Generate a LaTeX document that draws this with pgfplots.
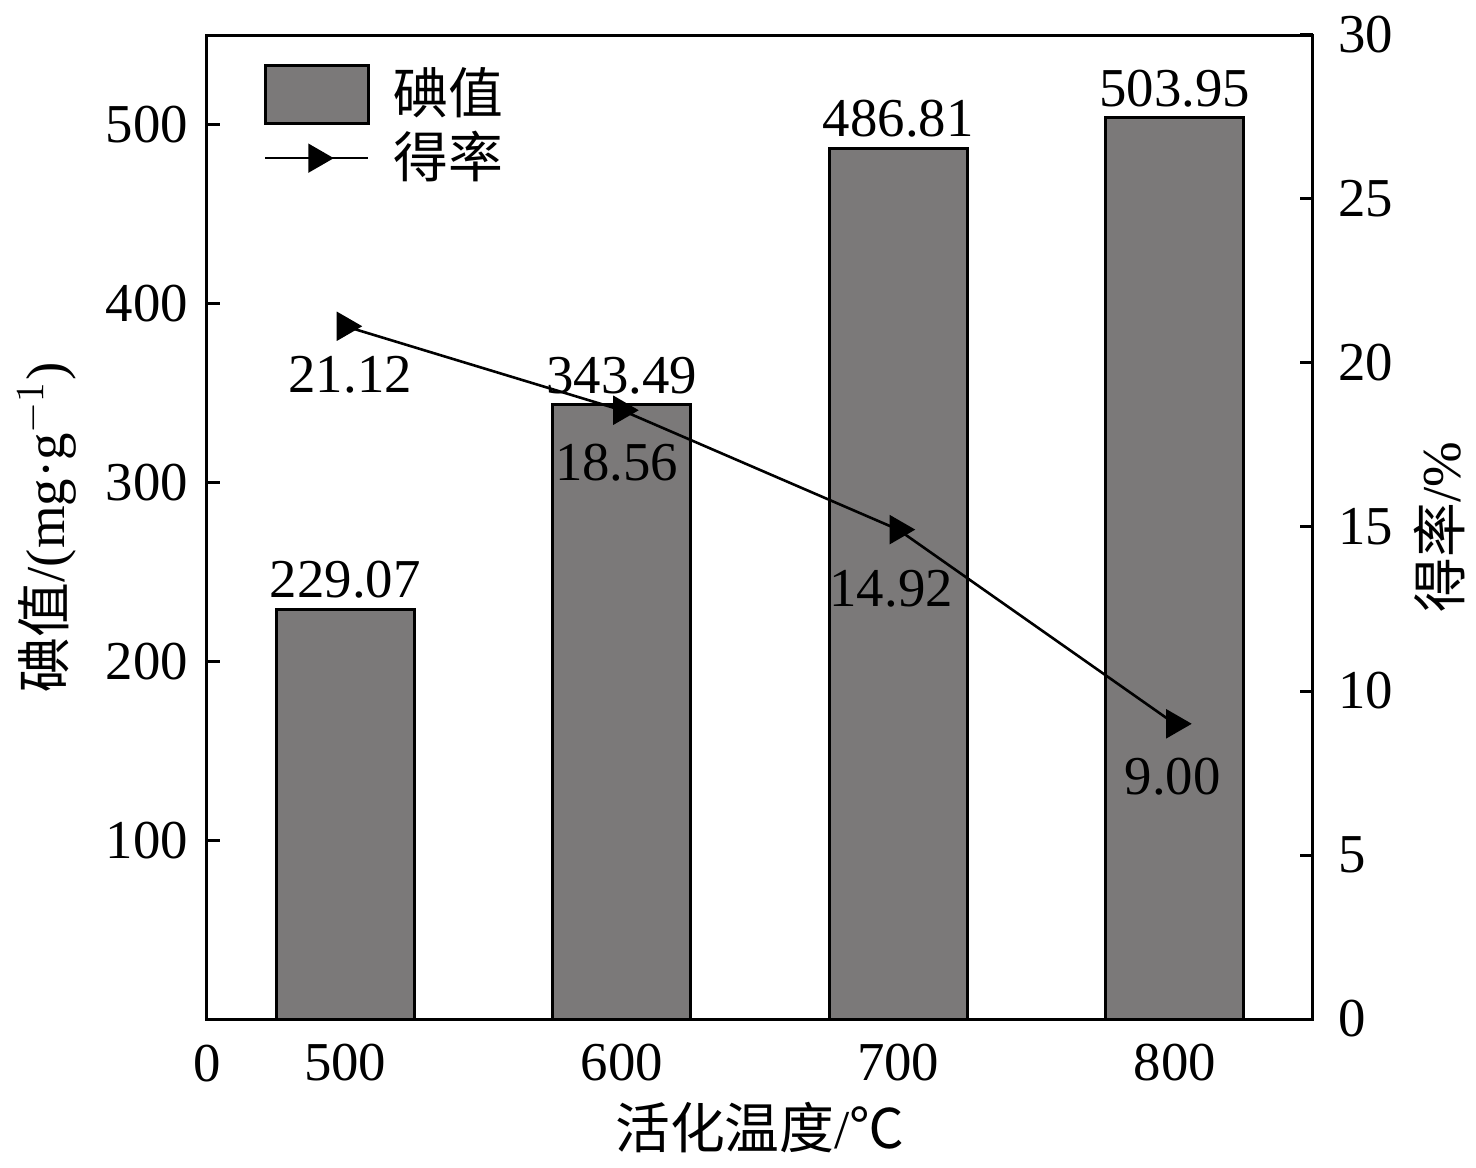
\documentclass[border=0pt]{standalone}
\usepackage{pgfplots}
\pgfplotsset{compat=1.18}
\usepackage{pgfplotstable}
\usepackage{fontspec}
\setmainfont{Liberation Serif}
\newfontfamily\cjk{Noto Sans CJK SC}
\definecolor{barg}{HTML}{7B7979}
\pgfplotstableread{
x iod yld xo yo
500 229.07 21.12 1.25 -12
600 343.49 18.56 -1.25 -13
700 486.81 14.92 -1.75 -14.75
800 503.95 9.00 -0.5 -13.25
}\data
\pgfplotsset{
  /pgf/number format/assume math mode=true,
  common/.style={
    width=276.5pt, height=246pt, scale only axis,
    at={(0,0)}, anchor=south west,
    xmin=450, xmax=850,
    tick align=inside, major tick length=3.25pt,
    axis line style={line width=0.75pt},
    every tick/.style={black, line width=0.75pt},
  },
  barleg/.style={legend image code/.code={\draw[##1] (0pt,-7.25pt) rectangle (25.75pt,7.25pt);}},
  lineleg/.style={legend image code/.code={\draw[mark repeat=2,mark phase=2,##1] plot coordinates {(0pt,0pt) (12.875pt,0pt) (25.75pt,0pt)};}},
}
\begin{document}
\fontsize{13.7}{16}\selectfont
\begin{tikzpicture}
\begin{axis}[common,
  clip=false,
  ymin=0, ymax=550,
  xtick={500,600,700,800}, ytick={100,200,300,400,500},
  xtick pos=bottom, ytick pos=left,
  xticklabel style={yshift=-1.4pt},
  xlabel={{\cjk 活化温度}/{\cjk ℃}},
  xlabel style={at={(axis description cs:0.5,-0.1108)}, anchor=center},
  ylabel={{\cjk 碘值}/(mg·g$^{-1}$)},
  ylabel style={at={(axis description cs:-0.1447,0.5)}, anchor=center},
  legend style={draw=none, fill=none, at={(axis description cs:0.0506,0.9715)}, anchor=north west,
    inner sep=0pt, nodes={inner sep=0pt}, column sep=6pt, row sep=1.5pt},
  legend cell align=left,
]
\addplot[ybar, bar width=50, fill=barg, draw=black, line width=0.75pt, barleg,
  nodes near coords={\pgfmathprintnumber[fixed,fixed zerofill,precision=2]{\pgfplotspointmeta}},
  nodes near coords style={anchor=south, inner sep=0pt, yshift=2.25pt, black},
] table[x=x, y=iod] {\data};
\addlegendentry{\cjk 碘值}
\addlegendimage{black, line width=0.65pt, mark=triangle*, mark options={rotate=-90, fill=black}, mark size=3.6pt, lineleg}
\addlegendentry{\cjk 得率}
\node[anchor=center] at (axis description cs:0,-0.0457) {0};
\end{axis}
\begin{axis}[common,
  ymin=0, ymax=30, ytick={0,5,...,30},
  axis x line=none, axis y line*=right,
  yticklabel style={xshift=1.5pt},
  ylabel={{\cjk 得率}/\%},
  ylabel style={at={(axis description cs:1.1148,0.5)}, anchor=center},
]
\addplot[black, line width=0.65pt, mark=triangle*, mark options={rotate=-90, fill=black}, mark size=3.6pt,
  visualization depends on={\thisrow{xo}\as\xo},
  visualization depends on={\thisrow{yo}\as\yo},
  nodes near coords={\pgfmathprintnumber[fixed,fixed zerofill,precision=2]{\pgfplotspointmeta}},
  nodes near coords style={anchor=center, inner sep=0pt, xshift=\xo pt, yshift=\yo pt, black},
] table[x=x, y=yld] {\data};
\end{axis}
\pgfresetboundingbox
\path[use as bounding box] (-51.75pt,-37pt) rectangle (317.25pt,254.75pt);
\end{tikzpicture}
\end{document}
